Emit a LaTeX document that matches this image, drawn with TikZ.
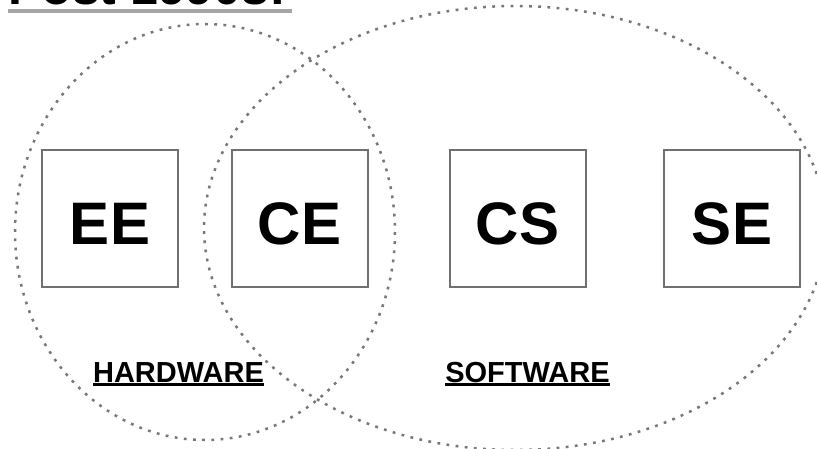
\documentclass[tikz,border=0pt]{standalone}
\usepackage{fontspec}
\setmainfont{Liberation Sans}
\definecolor{ringgray}{RGB}{120,120,120}
\definecolor{boxgray}{RGB}{112,112,112}
\definecolor{titlegray}{RGB}{165,165,165}
\newcommand\myul[1]{\setbox0=\hbox{#1}\rlap{\rule[-3.5pt]{\wd0}{3pt}}\box0}
\begin{document}
\begin{tikzpicture}[x=1pt,y=-1pt,
  ring/.style={draw=ringgray, line width=2.5pt, dash pattern=on 2.8pt off 6.4pt},
  sq/.style={draw=boxgray, line width=2pt, minimum width=136pt, minimum height=137pt,
    inner sep=0pt, font=\fontsize{60}{60}\selectfont\bfseries, text height=53pt, text depth=0pt},
  lab/.style={inner sep=0pt, anchor=base, font=\fontsize{29}{29}\selectfont\bfseries},
  ttl/.style={inner sep=0pt, anchor=base west, font=\fontsize{50}{50}\selectfont\bfseries},
  ttlline/.style={draw=titlegray, line width=4pt}
]
\useasboundingbox (0,0) rectangle (817,449);
% title (cut off at top)
\node[ttl] (title) at (8,4.5) {Post 1990s:};
\draw[ttlline] ([yshift=-7pt]title.base west) -- ([xshift=6pt,yshift=-7pt]title.base east);
% dotted regions
\draw[ring] (205,232) ellipse [x radius=190, y radius=208];
\draw[ring] (515,228) ellipse [x radius=311, y radius=222];
% boxes
\node[sq] (ee) at (110,218.5) {EE};
\node[sq] (ce) at (299.5,218.5) {CE};
\node[sq] (cs) at (517.5,218.5) {CS};
\node[sq] (se) at (732,218.5) {SE};
% labels
\node[lab] (hw) at (178.5,382.5) {\myul{HARDWARE}};
\node[lab] (sw) at (527.5,382.5) {\myul{SOFTWARE}};
\end{tikzpicture}
\end{document}
